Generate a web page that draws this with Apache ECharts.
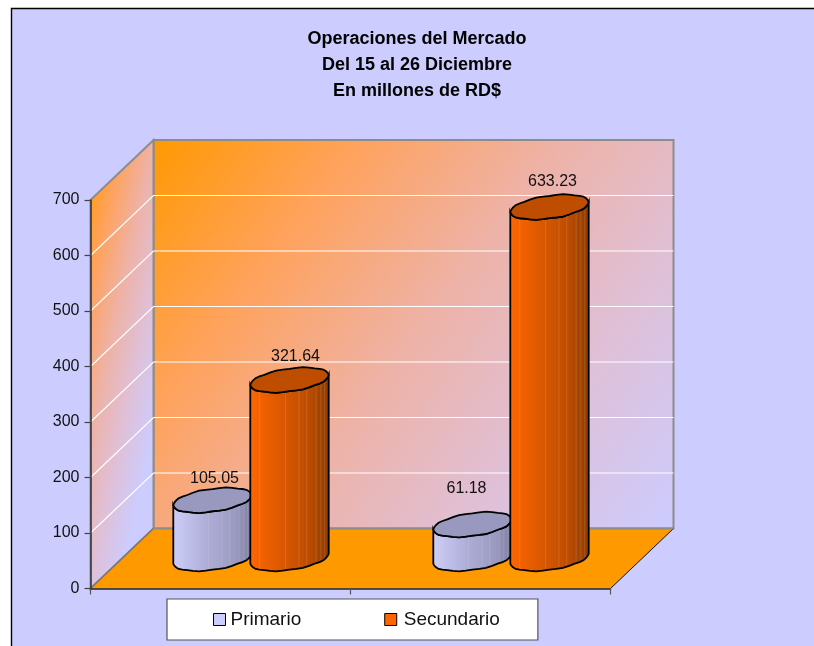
<!DOCTYPE html>
<html>
<head>
<meta charset="utf-8">
<style>
  html, body { margin: 0; padding: 0; background: #fff; }
  #main { width: 814px; height: 646px; }
</style>
<script src="https://cdn.jsdelivr.net/npm/echarts@6/dist/echarts.min.js"></script>
</head>
<body>
<div id="main"></div>
<script>
const categories = ['Periodo 1', 'Periodo 2'];
const primario = [105.05, 61.18];
const secundario = [321.64, 633.23];
const valueTicks = [0, 100, 200, 300, 400, 500, 600, 700];

// 3D look: how far the back wall sits from the front axes
const depthX = 63;
const depthY = -60;
const barGap = 38.5;
const radiusX = 39.2;
const radiusY = 12.5;
const tilt = 0.41;

const chart = echarts.init(document.getElementById('main'));

const ringPoint = (cx, cy, t) => [
  cx + radiusX * Math.cos(t),
  cy - radiusY * Math.sin(t + tilt) + 0.4 * Math.sin(9 * t)
];

// walls, floor and grid lines, all hung off the axis scales
const renderWalls = (params, api) => {
  const rect = params.coordSys;
  const y0 = api.coord([0, 0])[1];
  const yTop = api.coord([0, 700])[1];
  const xl = rect.x;
  const xr = rect.x + rect.width;
  const children = [
    {
      type: 'polygon',
      shape: { points: [[xl + depthX, yTop + depthY], [xr + depthX, yTop + depthY], [xr + depthX, y0 + depthY], [xl + depthX, y0 + depthY]] },
      style: {
        fill: new echarts.graphic.LinearGradient(0, 0, 1, 1, [
          { offset: 0, color: '#FF9900' },
          { offset: 0.25, color: '#FFA25C' },
          { offset: 0.5, color: '#EEB2A6' },
          { offset: 0.75, color: '#DFC0D8' },
          { offset: 1, color: '#CCCCFF' }
        ]),
        stroke: '#8C8C8C',
        lineWidth: 2
      }
    },
    {
      type: 'polygon',
      shape: { points: [[xl, yTop], [xl + depthX, yTop + depthY], [xl + depthX, y0 + depthY], [xl, y0]] },
      style: {
        fill: new echarts.graphic.LinearGradient(xl, yTop + depthY, xl + 121, yTop + depthY + 26, [
          { offset: 0, color: '#FF9900' },
          { offset: 0.25, color: '#FFA25C' },
          { offset: 0.5, color: '#EEB2A6' },
          { offset: 0.75, color: '#DFC0D8' },
          { offset: 1, color: '#CCCCFF' }
        ], true),
        stroke: '#8C8C8C',
        lineWidth: 2
      }
    }
  ];
  valueTicks.slice(1, -1).forEach((v) => {
    const y = api.coord([0, v])[1];
    children.push({
      type: 'polyline',
      shape: { points: [[xl, y], [xl + depthX, y + depthY], [xr + depthX, y + depthY]] },
      style: { fill: 'none', stroke: '#FFFFFF', lineWidth: 1.2 }
    });
  });
  children.push({
    type: 'polygon',
    shape: { points: [[xl, y0], [xr, y0], [xr + depthX, y0 + depthY], [xl + depthX, y0 + depthY]] },
    style: { fill: '#FF9900', stroke: 'none' }
  });
  children.push({
    type: 'line',
    shape: { x1: xl, y1: y0, x2: xl + depthX, y2: y0 + depthY },
    style: { stroke: '#777777', lineWidth: 1.5 }
  });
  children.push({
    type: 'line',
    shape: { x1: xr, y1: y0, x2: xr + depthX, y2: y0 + depthY },
    style: { stroke: '#111111', lineWidth: 1 }
  });
  children.push({
    type: 'line',
    shape: { x1: xl + depthX, y1: y0 + depthY, x2: xr + depthX, y2: y0 + depthY },
    style: { stroke: '#8C8C8C', lineWidth: 2 }
  });
  return { type: 'group', children };
};

const makeCylinder = (side, bodyStops, topColor, labelShift) => (params, api) => {
  const cat = api.value(0);
  const val = api.value(1);
  const base = api.coord([cat, 0]);
  const top = api.coord([cat, val]);
  const cx = base[0] + depthX / 2 + side * barGap - 1;
  const baseY = base[1] + depthY / 2;
  const topY = top[1] + depthY / 2;
  const steps = 36;

  const body = [];
  for (let i = 0; i <= steps / 2; i++) {
    body.push(ringPoint(cx, topY, Math.PI + (i / steps) * 2 * Math.PI));
  }
  for (let i = steps / 2; i >= 0; i--) {
    body.push(ringPoint(cx, baseY, Math.PI + (i / steps) * 2 * Math.PI));
  }
  const lid = [];
  for (let i = 0; i < steps; i++) {
    lid.push(ringPoint(cx, topY, (i / steps) * 2 * Math.PI));
  }

  const children = [{
    type: 'polygon',
    shape: { points: body },
    style: {
      fill: new echarts.graphic.LinearGradient(0, 0, 1, 0, bodyStops),
      stroke: 'none'
    }
  }];
  // faint facet seams on the cylinder wall
  [0.12, 0.45, 0.62, 0.72, 0.84, 0.9, 0.95].forEach((f) => {
    const t = Math.PI + Math.acos(1 - 2 * f);
    const a = ringPoint(cx, topY, t);
    const b = ringPoint(cx, baseY, t);
    children.push({
      type: 'line',
      shape: { x1: a[0], y1: a[1], x2: b[0], y2: b[1] },
      style: { stroke: 'rgba(255,225,190,0.16)', lineWidth: 1 }
    });
  });
  children.push({
    type: 'polygon',
    shape: { points: body },
    style: { fill: 'none', stroke: '#000', lineWidth: 1.8 }
  });
  children.push({
    type: 'polygon',
    shape: { points: lid },
    style: { fill: topColor, stroke: '#000', lineWidth: 1.8 }
  });
  const shift = labelShift[params.dataIndex];
  children.push({
    type: 'text',
    style: {
      x: cx + shift[0],
      y: topY + shift[1],
      text: val.toFixed(2),
      fill: '#111',
      font: '16px "Liberation Sans", Arial, sans-serif',
      align: 'center',
      verticalAlign: 'middle'
    }
  });
  return { type: 'group', children };
};

const toRows = (values) => values.map((v, i) => [i, v]);

chart.setOption({
  animation: false,
  backgroundColor: '#FFFFFF',
  graphic: [{
    type: 'rect',
    z: -1,
    shape: { x: 11.5, y: 8.5, width: 830, height: 660 },
    style: { fill: '#CCCCFF', stroke: '#000', lineWidth: 1.4 }
  }],
  title: {
    text: 'Operaciones del Mercado\nDel 15 al 26 Diciembre\nEn millones de RD$',
    left: 417,
    top: 26,
    padding: 0,
    textAlign: 'center',
    textStyle: {
      fontFamily: '"Liberation Sans", Arial, sans-serif',
      fontWeight: 'bold',
      fontSize: 18,
      lineHeight: 26,
      color: '#000'
    }
  },
  legend: {
    data: [
      { name: 'Primario' },
      { name: 'Secundario', textStyle: { padding: [0, 0, 0, 2] } }
    ],
    left: 167,
    top: 599,
    icon: 'rect',
    orient: 'horizontal',
    itemWidth: 12,
    itemHeight: 12,
    itemGap: 83,
    padding: [11, 38, 11, 46],
    backgroundColor: '#FFFFFF',
    borderColor: '#555555',
    borderWidth: 1.2,
    borderRadius: 0,
    itemStyle: { borderColor: '#000', borderWidth: 1 },
    textStyle: {
      fontFamily: '"Liberation Sans", Arial, sans-serif',
      fontSize: 19,
      color: '#111'
    }
  },
  grid: { left: 90.5, top: 200, width: 520, height: 388.5 },
  xAxis: {
    type: 'category',
    data: categories,
    z: 10,
    axisLine: { lineStyle: { color: '#222', width: 1.5 } },
    axisTick: { show: true, alignWithLabel: false, length: 6, lineStyle: { color: '#555', width: 1.2 } },
    axisLabel: { show: false },
    splitLine: { show: false }
  },
  yAxis: {
    type: 'value',
    min: 0,
    max: 700,
    interval: 100,
    z: 10,
    axisLine: { show: true, lineStyle: { color: '#333', width: 1.5 } },
    axisTick: { show: true, length: 6, lineStyle: { color: '#444', width: 1.2 } },
    axisLabel: {
      color: '#111',
      fontFamily: '"Liberation Sans", Arial, sans-serif',
      fontSize: 16,
      margin: 11
    },
    splitLine: { show: false }
  },
  tooltip: { show: false },
  series: [
    {
      name: 'walls',
      type: 'custom',
      z: 1,
      silent: true,
      clip: false,
      renderItem: renderWalls,
      encode: { x: 0, y: 1 },
      data: [[0, 0]]
    },
    {
      name: 'Primario',
      type: 'custom',
      z: 2,
      clip: false,
      itemStyle: { color: '#CCCCFF' },
      renderItem: makeCylinder(-1, [
        { offset: 0, color: '#CDCDFB' },
        { offset: 0.45, color: '#ACACD6' },
        { offset: 0.8, color: '#9A9AC0' },
        { offset: 1, color: '#7E7EA2' }
      ], '#9999BF', [[2, -22], [-6, -36]]),
      encode: { x: 0, y: 1 },
      data: toRows(primario)
    },
    {
      name: 'Secundario',
      type: 'custom',
      z: 3,
      clip: false,
      itemStyle: { color: '#FF6600' },
      renderItem: makeCylinder(1, [
        { offset: 0, color: '#FF6600' },
        { offset: 0.4, color: '#DB5800' },
        { offset: 0.75, color: '#BC4C00' },
        { offset: 0.9, color: '#A04200' },
        { offset: 1, color: '#8E3A00' }
      ], '#BF4D00', [[6, -23], [3, -25]]),
      encode: { x: 0, y: 1 },
      data: toRows(secundario)
    }
  ]
});
</script>
</body>
</html>
